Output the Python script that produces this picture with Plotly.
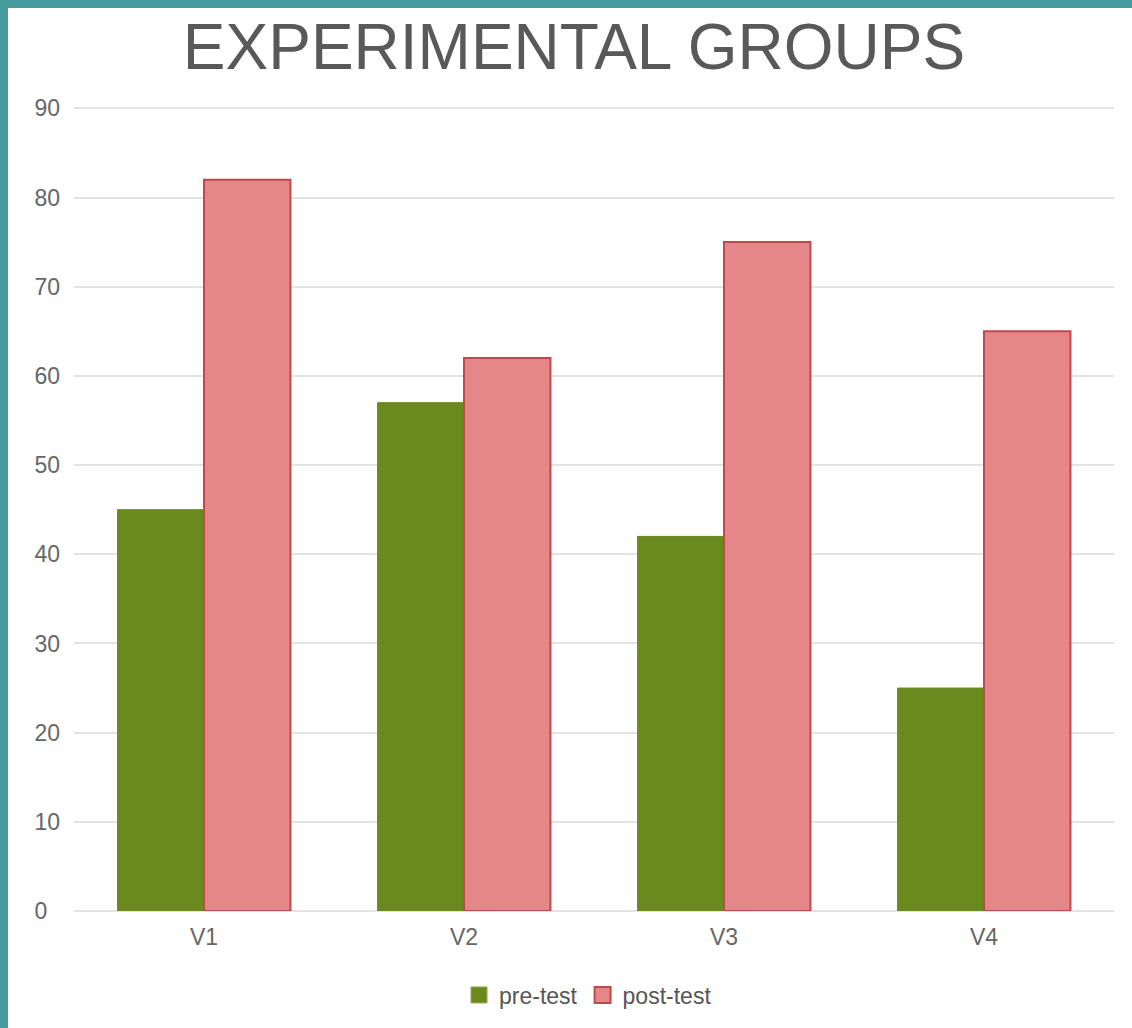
import plotly.graph_objects as go

categories = ["V1", "V2", "V3", "V4"]
pre_test = [45, 57, 42, 25]
post_test = [82, 62, 75, 65]
y_ticks = [0, 10, 20, 30, 40, 50, 60, 70, 80, 90]
# figure space pads single-digit label so labels read left-aligned
y_tick_text = [str(v) if v >= 10 else str(v) + "\u2007" for v in y_ticks]

W, H = 1132, 1028
L, R, T, B = 74, 18, 107, 117
pw, ph = W - L - R, H - T - B

font_family = "Liberation Sans, Arial, sans-serif"
pre_color, pre_line = "#6B8A1E", "#6B8A1E"
post_color, post_line = "#E58788", "#C0474A"

fig = go.Figure()
fig.add_trace(go.Bar(
    x=categories, y=pre_test, name="pre-test", showlegend=False,
    legendgroup="pre",
    marker=dict(color=pre_color, line=dict(color=pre_line, width=1)),
))
fig.add_trace(go.Bar(
    x=categories, y=post_test, name="post-test", showlegend=False,
    legendgroup="post",
    marker=dict(color=post_color, line=dict(color=post_line, width=2)),
))
# legend-only entries with larger square swatches
fig.add_trace(go.Scatter(
    x=[None], y=[None], mode="markers", name="pre-test", legendgroup="pre",
    marker=dict(symbol="square", size=20, color=pre_color,
                line=dict(color="#8FA85A", width=1)),
))
fig.add_trace(go.Scatter(
    x=[None], y=[None], mode="markers", name="post-test", legendgroup="post",
    marker=dict(symbol="square", size=20, color=post_color,
                line=dict(color=post_line, width=2)),
))

def px_to_paper_x(px):
    return (px - L) / pw

def px_to_paper_y(py):
    return (H - B - py) / ph

teal = "#459A9B"
shapes = [
    dict(type="rect", xref="paper", yref="paper", layer="above",
         x0=px_to_paper_x(0), x1=px_to_paper_x(8),
         y0=px_to_paper_y(H), y1=px_to_paper_y(0),
         fillcolor=teal, line=dict(width=0)),
    dict(type="rect", xref="paper", yref="paper", layer="above",
         x0=px_to_paper_x(0), x1=px_to_paper_x(W),
         y0=px_to_paper_y(8), y1=px_to_paper_y(0),
         fillcolor=teal, line=dict(width=0)),
]

fig.update_layout(
    width=W, height=H,
    margin=dict(l=L, r=R, t=T, b=B),
    paper_bgcolor="white", plot_bgcolor="white",
    font=dict(family=font_family, color="#666666", size=22),
    title=dict(text="EXPERIMENTAL GROUPS", x=574 / W, xanchor="center",
               y=1 - 47 / H, yanchor="middle", yref="container",
               font=dict(size=64, color="#595959", family=font_family)),
    barmode="group", bargap=0.335, bargroupgap=0,
    showlegend=True,
    legend=dict(orientation="h", x=px_to_paper_x(588), xanchor="center",
                y=px_to_paper_y(995), yanchor="middle",
                font=dict(size=23, color="#555555"),
                itemwidth=30, itemsizing="trace"),
    xaxis=dict(showgrid=False, showline=False, ticks="",
               ticklabelstandoff=10,
               tickfont=dict(size=23, color="#666666")),
    yaxis=dict(range=[0, 90.15], tickvals=y_ticks, ticktext=y_tick_text,
               showgrid=True,
               gridcolor="#E3E3E3", gridwidth=2, zeroline=True,
               zerolinecolor="#E3E3E3", zerolinewidth=2,
               showline=False, ticks="", ticklabelstandoff=13,
               tickfont=dict(size=23, color="#666666")),
    shapes=shapes,
)

fig.write_html("out.html")
